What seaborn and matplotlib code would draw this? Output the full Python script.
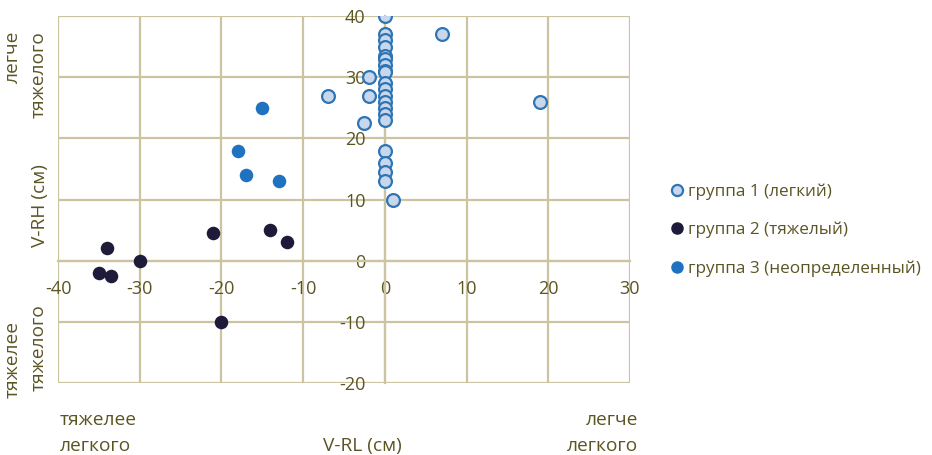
import numpy as np
import pandas as pd
import seaborn as sns
import matplotlib.pyplot as plt
from matplotlib.lines import Line2D

# group 1 (light)
g1_x = [0, 0, 0, 0, 0, 0, 0, 0, 0, 0, 0, 0, 0, 0, 0, 0, 0, 0, 0, 0,
        7, -2, -7, -2, -2.5, 19, 1]
g1_y = [40, 37, 36, 35, 33.5, 33, 32, 31, 30.8, 29, 28, 27, 26, 25, 24, 23, 18, 16, 14.5, 13,
        37, 30, 27, 27, 22.5, 26, 10]
# group 2 (heavy)
g2_x = [-34, -30, -21, -14, -12, -35, -33.5, -20]
g2_y = [2, 0, 4.5, 5, 3, -2, -2.5, -10]
# group 3 (undetermined)
g3_x = [-15, -18, -17, -13]
g3_y = [25, 18, 14, 13]

labels = ['группа 1 (легкий)', 'группа 2 (тяжелый)', 'группа 3 (неопределенный)']
x_ticks = [-40, -30, -20, -10, 0, 10, 20, 30]
y_ticks = [-20, -10, 0, 10, 20, 30, 40]

sns.set_style('white')
plt.rcParams['font.family'] = ['Open Sans', 'DejaVu Sans']
plt.rcParams['axes.unicode_minus'] = False

txt = '#5b5423'
grid = '#ccc4a0'
c1_face, c1_edge = '#c9d7ec', '#2e75b6'
c2 = '#1e1b3a'
c3 = '#1f72bf'

fig = plt.figure(figsize=(9.32, 4.55), dpi=100)
ax = fig.add_axes([58 / 932, 72 / 455, 572 / 932, 367 / 455])

df1 = pd.DataFrame({'x': g1_x, 'y': g1_y})
df2 = pd.DataFrame({'x': g2_x, 'y': g2_y})
df3 = pd.DataFrame({'x': g3_x, 'y': g3_y})
sns.scatterplot(data=df1, x='x', y='y', ax=ax, s=85, color=c1_face, edgecolor=c1_edge, linewidth=1.6, zorder=3)
sns.scatterplot(data=df2, x='x', y='y', ax=ax, s=95, color=c2, edgecolor=c2, linewidth=0, zorder=3)
sns.scatterplot(data=df3, x='x', y='y', ax=ax, s=95, color=c3, edgecolor=c3, linewidth=0, zorder=3)

ax.set_xlim(-40, 30)
ax.set_ylim(-20, 40)
ax.set_xticks(x_ticks)
ax.set_yticks(y_ticks)
ax.grid(True, color=grid, linewidth=1.6)
for ln in ax.get_xgridlines() + ax.get_ygridlines():
    ln.set_clip_on(False)
for side in ['top', 'right']:
    ax.spines[side].set_visible(False)
ax.spines['left'].set_position(('data', 0))
ax.spines['bottom'].set_position(('data', 0))
for side in ['left', 'bottom']:
    ax.spines[side].set_color(grid)
    ax.spines[side].set_linewidth(1.6)
ax.tick_params(axis='x', length=0, pad=14, labelsize=13, labelcolor=txt)
ax.tick_params(axis='y', length=0, pad=14, labelsize=13, labelcolor=txt)
ax.set_xlabel('')
ax.set_ylabel('')
ax.set_axisbelow(True)

W, H = 932, 455
def ftext(x, y, s, **kw):
    fig.text(x / W, 1 - y / H, s, color=txt, fontsize=13.8, **kw)

ftext(13, 31, 'легче', rotation=90, ha='center', va='top')
ftext(39, 31, 'тяжелого', rotation=90, ha='center', va='top')
ftext(40, 206, 'V-RH (см)', rotation=90, ha='center', va='center')
ftext(13, 398, 'тяжелее', rotation=90, ha='center', va='bottom')
ftext(39, 391, 'тяжелого', rotation=90, ha='center', va='bottom')
ftext(60, 420, 'тяжелее', ha='left', va='center')
ftext(60, 446, 'легкого', ha='left', va='center')
ftext(362, 446, 'V-RL (см)', ha='center', va='center')
ftext(638, 420, 'легче', ha='right', va='center')
ftext(638, 446, 'легкого', ha='right', va='center')

handles = [
    Line2D([], [], marker='o', linestyle='', markersize=8, markerfacecolor=c1_face, markeredgecolor=c1_edge, markeredgewidth=1.6),
    Line2D([], [], marker='o', linestyle='', markersize=8, markerfacecolor=c2, markeredgecolor=c2),
    Line2D([], [], marker='o', linestyle='', markersize=8, markerfacecolor=c3, markeredgecolor=c3),
]
leg = fig.legend(handles, labels, loc='center left', bbox_to_anchor=(656 / W, 1 - 230 / H),
                 frameon=False, fontsize=12.3, handlelength=0.6, handletextpad=0.4, labelspacing=1.3)
for t in leg.get_texts():
    t.set_color(txt)

fig.savefig('out.png', dpi=100)
